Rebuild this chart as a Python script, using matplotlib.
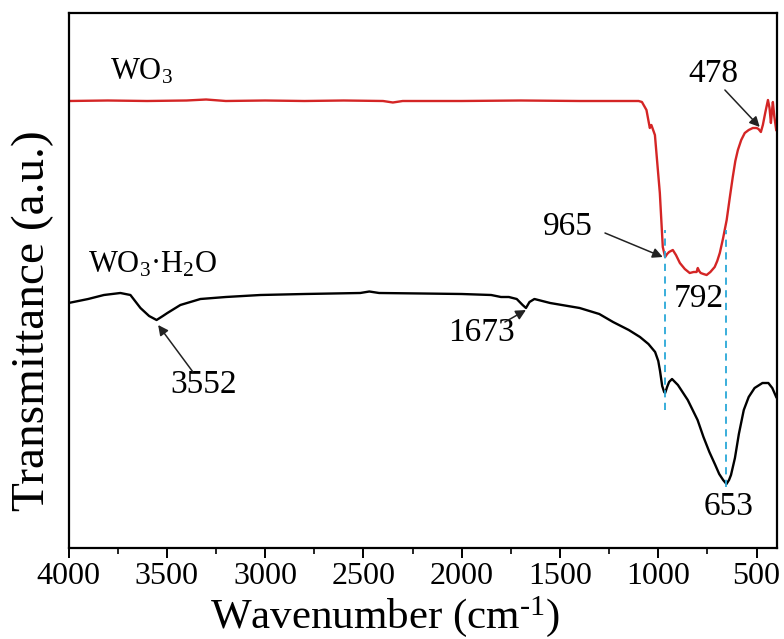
import matplotlib
matplotlib.use("Agg")
import matplotlib.pyplot as plt
from matplotlib.ticker import MultipleLocator

plt.rcParams['font.family'] = ['Liberation Serif', 'DejaVu Serif']
plt.rcParams['mathtext.fontset'] = 'custom'
plt.rcParams['mathtext.rm'] = 'Liberation Serif'
plt.rcParams['mathtext.it'] = 'Liberation Serif:italic'

# FTIR spectra, transmittance in arbitrary units (offset traces)
wn_wo3 = [4000, 3800, 3600, 3400, 3300, 3200, 3000, 2800, 2600, 2400, 2350, 2300,
          2000, 1700, 1400, 1200, 1100, 1083, 1060, 1043, 1035, 1017, 1005, 992,
          977, 965, 955, 945, 926, 910, 890, 865, 840, 820, 805, 799, 792, 784,
          770, 754, 735, 713, 700, 687, 670, 652, 635, 621, 608, 595, 578, 560,
          540, 519, 500, 490, 478, 468, 455, 442, 434, 427, 422, 417, 410, 400]
t_wo3 = [447, 447.5, 447, 447.5, 448.5, 447, 447.5, 447, 447.5, 447, 445.5, 447,
         447, 447.5, 447, 447, 447, 446, 438, 420, 423, 413, 385, 355,
         301, 291, 294, 296, 298, 293, 285, 279, 275, 276, 276, 280, 277, 275,
         274, 273, 276, 281, 287, 295, 310, 328, 352, 371, 387, 398, 408, 415,
         418, 420, 420, 419, 416, 423, 436, 448, 440, 425, 436, 446, 432, 418]

wn_wh = [4000, 3950, 3900, 3820, 3736, 3685, 3634, 3590, 3552, 3520, 3497, 3431,
         3329, 3200, 3024, 2800, 2516, 2470, 2420, 2200, 2000, 1850, 1800, 1760,
         1720, 1690, 1673, 1655, 1630, 1550, 1400, 1300, 1230, 1150, 1093, 1050,
         1016, 1000, 991, 980, 970, 965, 955, 945, 930, 915, 900, 870, 850, 830,
         800, 770, 740, 710, 690, 670, 653, 640, 630, 610, 590, 565, 540, 510,
         470, 440, 420, 400]
t_wh = [245, 247, 249, 253, 255, 253, 240, 232, 228, 232, 235, 243,
        249, 251, 253, 254, 255, 256.5, 255, 254.5, 254, 253, 251, 251,
        249, 243, 240, 246, 249, 245, 240, 234, 226, 218, 211, 204,
        196, 187, 177, 162, 156, 155, 161, 166, 169, 166, 163, 154, 148, 140,
        128, 111, 96, 83, 74, 68, 64, 68, 73, 90, 114, 138, 151, 160,
        165, 165, 160, 151]

# labelled band positions (cm-1)
peak_3552 = 3552
peak_1673 = 1673
peak_965 = 965
peak_792 = 792
peak_653 = 653
peak_478 = 478

x_ticks = [4000, 3500, 3000, 2500, 2000, 1500, 1000, 500]

fig = plt.figure(figsize=(7.84, 6.39), dpi=100)
ax = fig.add_axes([68.5 / 784, 91 / 639, (777 - 68.5) / 784, (548 - 13) / 639])

ax.plot(wn_wo3, t_wo3, color='#d42525', lw=1.7)
ax.plot(wn_wh, t_wh, color='black', lw=1.7)

ax.set_xlim(4000, 396)
ax.set_ylim(0, 535)

# dashed guides through the shared W-O bands
guide = dict(color='#2aa8d8', lw=1.3, ls=(0, (4, 3)))
ax.plot([peak_965, peak_965], [138, 318], **guide)
ax.plot([peak_653, peak_653], [61, 318], **guide)

ax.text(3789, 476, 'WO$_3$', fontsize=22, ha='left', va='center')
ax.text(3900, 283, 'WO$_3$·H$_2$O', fontsize=22, ha='left', va='center')

arrow = dict(arrowstyle='-|>', color='#222222', lw=1.1, mutation_scale=15,
             shrinkA=0, shrinkB=0)
fs_peak = 24
ax.text(722, 474, str(peak_478), fontsize=fs_peak, ha='center', va='center')
ax.annotate('', xy=(peak_478 + 6, 421), xytext=(661, 458), arrowprops=arrow)
ax.text(1459, 321, str(peak_965), fontsize=fs_peak, ha='center', va='center')
ax.annotate('', xy=(peak_965 + 12, 291), xytext=(1271, 315), arrowprops=arrow)
ax.text(peak_792, 249, str(peak_792), fontsize=fs_peak, ha='center', va='center')
ax.text(peak_653 - 10, 41, str(peak_653), fontsize=fs_peak, ha='center', va='center')
ax.text(3313, 163, str(peak_3552), fontsize=fs_peak, ha='center', va='center')
ax.annotate('', xy=(peak_3552 - 8, 223), xytext=(3367, 176), arrowprops=arrow)
ax.text(1897, 215, str(peak_1673), fontsize=fs_peak, ha='center', va='center')
ax.annotate('', xy=(peak_1673, 238), xytext=(1780, 226), arrowprops=arrow)

ax.set_xticks(x_ticks)
ax.xaxis.set_minor_locator(MultipleLocator(250))
ax.set_yticks([])
ax.tick_params(axis='x', which='major', direction='out', length=7, width=1.4,
               labelsize=23, pad=3)
ax.tick_params(axis='x', which='minor', direction='out', length=4, width=1.2)
for s in ax.spines.values():
    s.set_linewidth(1.6)

ax.set_xlabel(r'Wavenumber (cm$^{\text{-}1}$)', fontsize=31, va='center')
ax.xaxis.set_label_coords(0.447, -0.128)
ax.set_ylabel('Transmittance (a.u.)', fontsize=34, va='center')
ax.yaxis.set_label_coords(-0.05, 0.425)

fig.savefig('out.png', dpi=100)
